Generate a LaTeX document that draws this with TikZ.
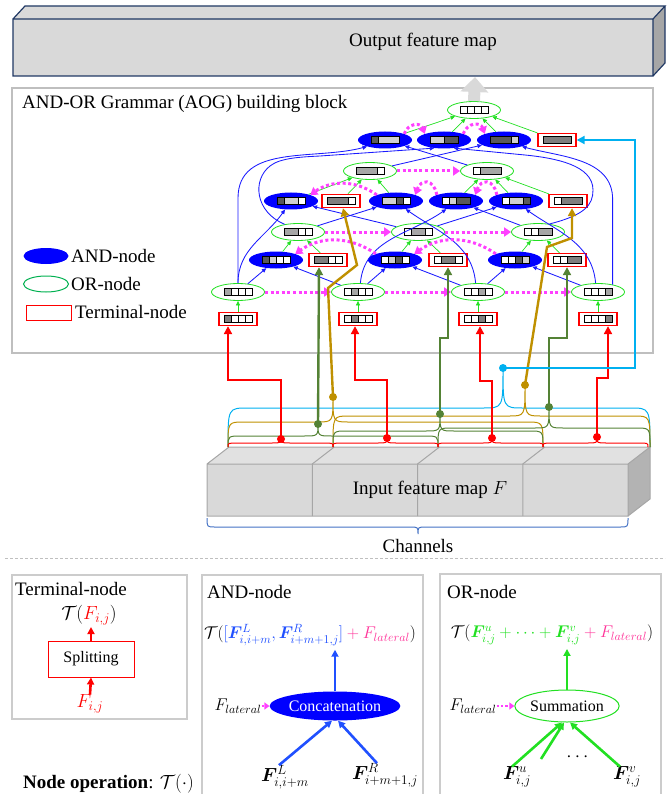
\documentclass[tikz,border=0pt]{standalone}
\usepackage{fix-cm}
\usepackage{amsmath,bm}
\usepackage{fontspec}
\setmainfont{Liberation Serif}
\usetikzlibrary{arrows.meta,shapes.geometric,positioning}
\definecolor{aogblue}{HTML}{0000FF}
\definecolor{edgeblue}{HTML}{1A1AFF}
\definecolor{pblue}{HTML}{2050FF}
\definecolor{orgreen}{HTML}{22E022}
\definecolor{leggreen}{HTML}{00B050}
\definecolor{latmag}{HTML}{FF40FF}
\definecolor{latpink}{HTML}{FF3399}
\definecolor{trmred}{HTML}{FF0000}
\definecolor{chgreen}{HTML}{548235}
\definecolor{chgold}{HTML}{BF9000}
\definecolor{chcyan}{HTML}{00B0F0}
\definecolor{chblue}{HTML}{4472C4}
\definecolor{boxgray}{HTML}{BFBFBF}
\definecolor{dk}{HTML}{595959}
\definecolor{md}{HTML}{A6A6A6}
\definecolor{lt}{HTML}{D0D0D0}
\definecolor{tg}{HTML}{7F7F7F}
\definecolor{fmfill}{HTML}{D9D9D9}
\definecolor{fmside}{HTML}{A6A6A6}
\definecolor{outline}{HTML}{203864}

\tikzset{
  txt/.style={inner sep=0pt},
  ornode/.style={ellipse,draw=orgreen,line width=0.8pt,fill=white,minimum width=53pt,minimum height=17pt,inner sep=0pt},
  andnode/.style={ellipse,fill=aogblue,minimum width=54pt,minimum height=17pt,inner sep=0pt},
  termnode/.style={rectangle,draw=trmred,line width=1.3pt,fill=white,minimum width=38pt,minimum height=13pt,inner sep=0pt},
  gedge/.style={draw=orgreen,line width=0.7pt,-{Triangle[length=4.5pt,width=4pt]}},
  bedge/.style={draw=edgeblue,line width=0.85pt,-{Triangle[length=4.5pt,width=4pt]}},
  latedge/.style={draw=latmag,line width=3pt,dash pattern=on 3pt off 2.6pt,-{Triangle[length=7pt,width=9pt]}},
  latsmall/.style={draw=latmag,line width=2.4pt,dash pattern=on 2.4pt off 2pt,-{Triangle[length=5pt,width=7pt]}},
  chline/.style={line width=2.4pt,-{Triangle[length=8pt,width=8pt]}},
  opar/.style={line width=2.6pt,-{Triangle[length=7pt,width=7pt]}},
  panel/.style={draw=boxgray!80,line width=1.2pt},
}

% feature bar inside a node: list of width/colour
\newcommand{\fmap}[2]{%
  \foreach \nq/\cq [remember=\eq as \sq (initially 0),evaluate=\nq as \eq using \sq+\nq] in {#2}
    {\draw[shift={(#1)},fill=\cq,line width=0.7pt] (-14+7*\sq,-3.5) rectangle (-14+7*\eq,3.5);}}

% channel brace: [radius] colour, x1, x2, xtip, ybottom, ymid, ytip
\newcommand{\chbrace}[8][14]{%
  \draw[#2,line width=1pt] (#3,#6) .. controls (#3,#7) .. (#3+#1,#7) -- (#5-#1,#7)
    .. controls (#5,#7) .. (#5,#8) .. controls (#5,#7) .. (#5+#1,#7) -- (#4-#1,#7)
    .. controls (#4,#7) .. (#4,#6);}

\begin{document}
\begin{tikzpicture}[x=1pt,y=1pt,font=\fontsize{19}{23}\selectfont]
  \useasboundingbox (0,0) rectangle (667,-794);

  % output feature map
  \fill[fmfill] (13,-19) -- (25,-6) -- (665,-6) -- (653,-19) -- cycle;
  \fill[fmside] (653,-19) -- (665,-6) -- (665,-63) -- (653,-76) -- cycle;
  \fill[fmfill] (13,-19) rectangle (653,-76);
  \draw[outline,line width=1.2pt] (13,-19) rectangle (653,-76) (13,-19) -- (25,-6) -- (665,-6) -- (653,-19) (665,-6) -- (665,-63) -- (653,-76);
  \node[txt] (outmap) at (423,-42) {Output feature map};
  \coordinate (outbot) at (475,-77);

  % AOG block
  \draw[boxgray,line width=1.5pt] (12,-88) rectangle (653,-353);
  \node[txt,anchor=west] (aogtitle) at (22,-104) {AND-OR Grammar (AOG) building block};

  % legend
  \node[andnode,minimum width=45pt,minimum height=16pt] (lgand) at (46,-256) {};
  \node[txt,anchor=west] at (71,-256) {AND-node};
  \node[ellipse,draw=leggreen,line width=1pt,minimum width=45pt,minimum height=16pt,inner sep=0pt] (lgor) at (46,-284) {};
  \node[txt,anchor=west] at (71,-284) {OR-node};
  \node[draw=trmred,line width=1pt,minimum width=45pt,minimum height=15pt,inner sep=0pt] (lgterm) at (48.5,-312.5) {};
  \node[txt,anchor=west] at (75,-312) {Terminal-node};

  % AOG nodes
  \node[ornode] (top) at (474,-110) {};
  \foreach \nm/\x in {b1/385,b2/444,b3/504} {\node[andnode] (\nm) at (\x,-140) {};}
  \node[termnode] (tb) at (557,-140) {};
  \node[ornode] (c1) at (370,-171) {};
  \node[ornode] (c2) at (487,-171) {};
  \foreach \nm/\x in {d1/291,d2/396,d3/456,d4/516} {\node[andnode] (\nm) at (\x,-201) {};}
  \node[termnode] (td1) at (341,-201) {};
  \node[termnode] (td2) at (568,-201) {};
  \foreach \nm/\x in {e1/298,e2/418,e3/538} {\node[ornode] (\nm) at (\x,-232) {};}
  \foreach \nm/\x in {f1/276,f2/395,f3/515} {\node[andnode] (\nm) at (\x,-260) {};}
  \foreach \nm/\x in {tf1/328,tf2/448,tf3/567} {\node[termnode] (\nm) at (\x,-260) {};}
  \foreach \k/\x in {1/238,2/358,3/478,4/598}{
    \node[ornode] (g\k) at (\x,-292) {};
    \node[termnode] (h\k) at (\x,-319) {};
  }

  % feature bars
  \fmap{top}{1/white,1/white,1/white,1/white}
  \fmap{b1}{1/dk,3/lt} \fmap{b2}{2/lt,2/dk} \fmap{b3}{3/dk,1/lt} \fmap{tb}{4/tg}
  \fmap{c1}{3/md,1/white} \fmap{c2}{1/white,3/md}
  \fmap{d1}{1/dk,2/lt,1/white} \fmap{td1}{3/tg,1/white} \fmap{d2}{2/lt,1/dk,1/white}
  \fmap{d3}{1/white,1/lt,2/dk} \fmap{d4}{1/white,2/lt,1/dk} \fmap{td2}{1/white,3/tg}
  \fmap{e1}{2/md,1/white,1/white} \fmap{e2}{1/white,2/md,1/white} \fmap{e3}{1/white,1/white,2/md}
  \fmap{f1}{1/dk,1/lt,1/white,1/white} \fmap{tf1}{2/tg,1/white,1/white}
  \fmap{f2}{1/white,1/lt,1/dk,1/white} \fmap{tf2}{1/white,2/tg,1/white}
  \fmap{f3}{1/white,1/white,1/dk,1/lt} \fmap{tf3}{1/white,1/white,2/tg}
  \fmap{g1}{1/md,1/white,1/white,1/white} \fmap{g2}{1/white,1/md,1/white,1/white}
  \fmap{g3}{1/white,1/white,1/md,1/white} \fmap{g4}{1/white,1/white,1/white,1/md}
  \fmap{h1}{1/tg,1/white,1/white,1/white} \fmap{h2}{1/white,1/tg,1/white,1/white}
  \fmap{h3}{1/white,1/white,1/tg,1/white} \fmap{h4}{1/white,1/white,1/white,1/tg}

  % OR-node inputs
  \foreach \ch in {b1,b2,b3,tb} {\draw[gedge] (\ch) -- (top);}
  \foreach \ch in {d1,td1,d2} {\draw[gedge] (\ch) -- (c1);}
  \foreach \ch in {d3,d4,td2} {\draw[gedge] (\ch) -- (c2);}
  \draw[gedge] (f1) -- (e1); \draw[gedge] (tf1) -- (e1);
  \draw[gedge] (f2) -- (e2); \draw[gedge] (tf2) -- (e2);
  \draw[gedge] (f3) -- (e3); \draw[gedge] (tf3) -- (e3);
  \foreach \k in {1,...,4} {\draw[gedge] (h\k) -- (g\k);}

  % AND-node inputs
  \draw[bedge] (g1) -- (f1); \draw[bedge] (g2) -- (f1);
  \draw[bedge] (g2) -- (f2); \draw[bedge] (g3) -- (f2);
  \draw[bedge] (g3) -- (f3); \draw[bedge] (g4) -- (f3);
  \draw[bedge] (g1.north) to[out=90,in=235] (d1.235);
  \draw[bedge] (e2) -- (d1);
  \draw[bedge] (e1) -- (d2);
  \draw[bedge] (g3.105) to[out=95,in=-35] (d2.-40);
  \draw[bedge] (g2.75) to[out=85,in=215] (d3.220);
  \draw[bedge] (e3) -- (d3);
  \draw[bedge] (e2) -- (d4);
  \draw[bedge] (g4.105) to[out=95,in=-35] (d4.-40);
  \draw[bedge] (g1.north) -- ++(0,85) to[out=90,in=195] (b1.200);
  \draw[bedge] (c2) -- (b1);
  \draw[bedge] (e1.150) .. controls (255,-212) and (252,-180) .. (270,-166) .. controls (280,-158) and (300,-157) .. (320,-156) -- (b2.220);
  \draw[bedge] (e3.35) .. controls (585,-215) and (593,-205) .. (593,-190) .. controls (593,-165) and (555,-158) .. (525,-155) -- (b2.-40);
  \draw[bedge] (c1) -- (b3);
  \draw[bedge] (g4.27) -- ++(0,85) to[out=90,in=-15] (b3.-20);

  % lateral connections
  \draw[latedge] (g1) -- (g2); \draw[latedge] (g2) -- (g3); \draw[latedge] (g3) -- (g4);
  \draw[latedge] (e1) -- (e2); \draw[latedge] (e2) -- (e3);
  \draw[latedge] (c1) -- (c2);
  \draw[latedge] (f2.north west) to[bend right=35] (f1.north east);
  \draw[latedge] (f3.north west) to[bend right=35] (f2.north east);
  \draw[latedge] (d2.north west) to[bend right=35] (d1.north east);
  \draw[latedge] (d3.north west) to[out=100,in=70,looseness=2] (d2.north east);
  \draw[latedge] (d4.north west) to[out=100,in=70,looseness=2] (d3.north east);
  \draw[latedge] (b1.north east) to[out=70,in=110,looseness=1.5] (b2.north west);
  \draw[latedge] (b2.north east) to[out=70,in=110,looseness=1.5] (b3.north west);

  % output arrow
  \draw[fmfill,line width=12pt,-{Triangle[length=15pt,width=27pt]}] (top.north) -- (outbot);

  % input feature map
  \fill[fmfill!80!white] (207,-464) -- (229,-447) -- (650,-447) -- (628,-464) -- cycle;
  \fill[fmfill] (207,-464) rectangle (628,-516);
  \fill[fmside!85!white] (628,-464) -- (650,-447) -- (650,-499) -- (628,-516) -- cycle;
  \draw[fmside,line width=1pt] (207,-464) rectangle (628,-516) (207,-464) -- (229,-447) -- (650,-447) -- (628,-464) (650,-447) -- (650,-499) -- (628,-516);
  \foreach \i in {1,2,3} {\draw[fmside,line width=1pt] (207+105.25*\i,-516) -- (207+105.25*\i,-464) -- (229+105.25*\i,-447);}
  \node[txt] (inmap) at (430,-490) {Input feature map $F$};
  \chbrace[8]{chblue}{207}{628}{418}{-518}{-527}{-534}
  \node[txt] (chan) at (418,-546) {Channels};
  \draw[boxgray,line width=1pt,dash pattern=on 3pt off 2pt] (5,-558) -- (665,-558);

  % channel groups
  \chbrace[20]{chcyan}{228}{650}{503}{-447}{-408}{-368}
  \chbrace[16]{chgold}{228}{543}{333}{-447}{-422}{-397}
  \chbrace[16]{chgold}{333}{650}{525}{-447}{-416}{-385}
  \chbrace{chgreen}{228}{438}{318}{-447}{-436}{-424}
  \chbrace{chgreen}{333}{543}{440}{-447}{-431}{-414}
  \chbrace{chgreen}{438}{650}{549}{-447}{-428}{-407}
  \foreach \x/\tp in {228/281,333/387,438/492,543/597}
    {\chbrace[10]{trmred}{\x}{\x+105}{\tp}{-447}{-443}{-438}}

  \coordinate (r1) at (281,-439); \coordinate (r2) at (387,-438);
  \coordinate (r3) at (492,-438); \coordinate (r4) at (597,-437);
  \coordinate (o1) at (318,-424); \coordinate (o2) at (440,-414); \coordinate (o3) at (549,-407);
  \coordinate (au1) at (333,-397); \coordinate (au2) at (525,-385);
  \coordinate (cy) at (503,-368);

  \draw[chline,trmred] (r1) -- (281,-380) -| ([xshift=-10pt]h1.south);
  \draw[chline,trmred] (r2) -- (387,-380) -| ([xshift=-3pt]h2.south);
  \draw[chline,trmred] (r3) -- (492,-381) -| ([xshift=2pt]h3.south);
  \draw[chline,trmred] (r4) -- (597,-378) -| ([xshift=10pt]h4.south);
  \draw[chline,chgreen] (o1) -- ([xshift=-9pt]tf1.south);
  \draw[chline,chgreen] (o2) -- (440,-338) -| (tf2.south);
  \draw[chline,chgreen] (o3) -- (549,-338) -| (tf3.south);
  \draw[chline,chgold] (au1) -- (328,-288) -- (357,-265) -- ([xshift=2pt]td1.south);
  \draw[chline,chgold] (au2) -- (547,-247) -- (572,-238) -- ([xshift=4pt]td2.south);
  \draw[chline,chcyan] (cy) -- (635,-368) |- (tb.east);
  \foreach \p in {r1,r2,r3,r4} {\fill[trmred] (\p) circle (4);}
  \foreach \p in {o1,o2,o3} {\fill[chgreen] (\p) circle (4);}
  \foreach \p in {au1,au2} {\fill[chgold] (\p) circle (4);}
  \fill[chcyan] (cy) circle (4);

  % terminal-node panel
  \draw[panel] (12,-575) rectangle (187,-719);
  \node[txt,anchor=west] at (15,-589) {Terminal-node};
  \node[txt] (tform) at (89,-615) {$\mathcal{T}(\textcolor{trmred}{F_{i,j}})$};
  \node[draw=trmred,line width=1pt,minimum width=86pt,minimum height=36pt,font=\fontsize{16}{18}\selectfont] (split) at (91,-659) {Splitting};
  \node[txt,text=trmred] (fij) at (90,-704) {$F_{i,j}$};
  \draw[opar,trmred,shorten >=2pt] (split.north) -- (split.north |- tform.south);
  \draw[opar,trmred] (fij.north) -- (split.south);
  \node[txt,anchor=west] at (23,-784) {\textbf{Node operation}: $\mathcal{T}(\cdot)$};

  % AND-node panel
  \draw[panel] (202,-800) -- (202,-575) -- (423,-575) -- (423,-800);
  \node[txt,anchor=west] at (207,-592) {AND-node};
  \node[txt,font=\fontsize{17}{20}\selectfont] (aform) at (310,-635) {$\mathcal{T}(\textcolor{pblue}{[\bm{F}^{L}_{i,i+m},\bm{F}^{R}_{i+m+1,j}]}\textcolor{latpink}{{}+F_{lateral}})$};
  \node[ellipse,fill=aogblue,minimum width=104pt,minimum height=29pt,inner sep=0pt,text=white,font=\fontsize{16}{18}\selectfont] (concat) at (335,-706) {Concatenation};
  \draw[opar,pblue,shorten >=4pt] (concat.north) -- (concat.north |- aform.south);
  \node[txt,font=\fontsize{17}{20}\selectfont] (flat1) at (238,-706) {$F_{lateral}$};
  \draw[latsmall] (flat1.east) -- (concat.west);
  \node[txt] (fl) at (285,-777) {$\bm{F}^{L}_{i,i+m}$};
  \node[txt] (fr) at (385,-775) {$\bm{F}^{R}_{i+m+1,j}$};
  \draw[opar,pblue] ([xshift=-6pt]fl.north) -- ([xshift=-3pt]concat.south);
  \draw[opar,pblue] ([xshift=-8pt]fr.north) -- ([xshift=3pt]concat.south);

  % OR-node panel
  \draw[panel] (440,-800) -- (440,-574) -- (661,-574) -- (661,-800);
  \node[txt,anchor=west] at (447,-592) {OR-node};
  \node[txt,font=\fontsize{17}{20}\selectfont] (oform) at (552,-635) {$\mathcal{T}(\textcolor{orgreen}{\bm{F}^{u}_{i,j}+\cdots+\bm{F}^{v}_{i,j}}\textcolor{latpink}{{}+F_{lateral}})$};
  \node[ellipse,draw=orgreen,line width=1pt,fill=white,minimum width=90pt,minimum height=32pt,inner sep=0pt,font=\fontsize{16}{18}\selectfont] (summ) at (567,-706) {Summation};
  \draw[opar,orgreen,shorten >=4pt] (summ.north) -- (summ.north |- oform.south);
  \node[txt,font=\fontsize{17}{20}\selectfont] (flat2) at (473,-706) {$F_{lateral}$};
  \draw[latsmall] (flat2.east) -- (summ.west);
  \node[txt] (fu) at (517,-777) {$\bm{F}^{u}_{i,j}$};
  \node[txt] (fv) at (627,-777) {$\bm{F}^{v}_{i,j}$};
  \node[txt] (odots) at (579,-757) {$\cdots$};
  \coordinate (fmid) at (541,-759);
  \draw[opar,orgreen] ([xshift=-5pt]fu.north) -- ([xshift=-5pt]summ.south);
  \draw[opar,orgreen] (fmid) -- ([xshift=-3pt]summ.south);
  \draw[opar,orgreen] ([xshift=-7pt]fv.north) -- ([xshift=3pt]summ.south);
\end{tikzpicture}
\end{document}
